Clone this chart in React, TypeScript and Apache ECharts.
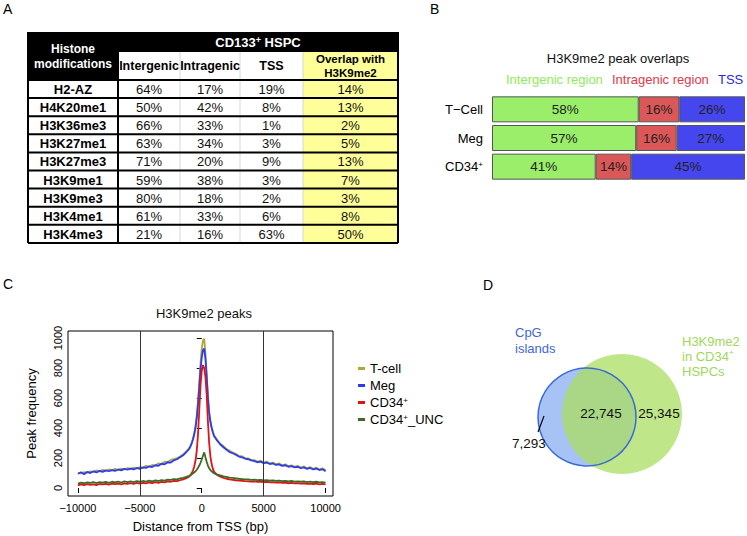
import React, { useEffect, useRef } from "react";
import * as echarts from "echarts";

const FONT = '"Liberation Sans", Arial, Helvetica, sans-serif';

// ---------- Panel A: table ----------
const histoneMods = ["H2-AZ", "H4K20me1", "H3K36me3", "H3K27me1", "H3K27me3", "H3K9me1", "H3K9me3", "H3K4me1", "H3K4me3"];
const intergenicPct = [64, 50, 66, 63, 71, 59, 80, 61, 21];
const intragenicPct = [17, 42, 33, 34, 20, 38, 18, 33, 16];
const tssPct = [19, 8, 1, 3, 9, 3, 2, 6, 63];
const overlapPct = [14, 13, 2, 5, 13, 7, 3, 8, 50];

// ---------- Panel B: stacked bars ----------
const cellTypes = ["T−Cell", "Meg", "CD34+"];
const intergenicRegion = [58, 57, 41];
const intragenicRegion = [16, 16, 14];
const tssRegion = [26, 27, 45];

// ---------- Panel C: peak profiles ----------
const distance = [
  -10000, -9750, -9500, -9250, -9000, -8750, -8500, -8250, -8000, -7750, -7500, -7250, -7000, -6750, -6500, -6250, -6000, -5750, -5500, -5250,
  -5000, -4750, -4500, -4250, -4000, -3750, -3500, -3250, -3000, -2750, -2500, -2250, -2000, -1750, -1500, -1250, -1000,
  -900, -800, -700, -600, -500, -400, -300, -200, -100, 0, 100, 200, 300, 400, 500, 600, 700, 800, 900, 1000,
  1250, 1500, 1750, 2000, 2250, 2500, 2750, 3000, 3250, 3500, 3750, 4000, 4250, 4500, 4750, 5000, 5250, 5500, 5750, 6000,
  6250, 6500, 6750, 7000, 7250, 7500, 7750, 8000, 8250, 8500, 8750, 9000, 9250, 9500, 9750, 10000,
];
const tCell = [
  100, 98, 106, 102, 112, 106, 118, 110, 122, 114, 124, 118, 128, 120, 130, 124, 134, 128, 136, 130,
  140, 134, 148, 142, 154, 150, 164, 160, 176, 172, 188, 192, 200, 210, 225, 245, 268,
  285, 305, 332, 368, 415, 485, 580, 700, 830, 930, 985, 995, 900, 760, 615, 510, 448, 405, 375, 350,
  322, 295, 280, 260, 248, 236, 228, 214, 212, 200, 198, 188, 186, 176, 182, 170, 176, 164, 170, 158,
  164, 152, 158, 146, 152, 142, 148, 136, 144, 132, 140, 128, 136, 124, 132, 118,
];
const meg = [
  95, 105, 92, 108, 100, 112, 104, 115, 108, 118, 112, 120, 114, 124, 118, 128, 122, 130, 124, 134,
  128, 138, 134, 145, 140, 152, 148, 162, 158, 172, 170, 185, 192, 205, 218, 240, 262,
  280, 300, 325, 360, 405, 470, 560, 670, 790, 870, 920, 930, 860, 740, 600, 500, 440, 400, 370, 345,
  315, 290, 272, 255, 240, 232, 222, 210, 205, 196, 192, 184, 180, 172, 176, 166, 170, 160, 164, 154,
  158, 148, 152, 142, 146, 138, 142, 132, 138, 128, 134, 124, 130, 120, 126, 112,
];
const cd34 = [
  18, 24, 20, 26, 22, 25, 20, 27, 24, 28, 23, 29, 26, 30, 25, 31, 28, 33, 27, 34,
  30, 35, 31, 37, 33, 39, 35, 41, 38, 44, 42, 48, 46, 52, 58, 66, 78,
  88, 100, 118, 145, 185, 250, 360, 520, 680, 780, 820, 800, 740, 620, 440, 300, 210, 160, 128, 108,
  88, 76, 68, 62, 58, 55, 52, 50, 48, 46, 45, 43, 44, 41, 43, 40, 42, 38, 40, 36,
  38, 34, 36, 32, 35, 31, 33, 29, 32, 28, 30, 27, 29, 25, 28, 24,
];
const cd34Unc = [
  30, 36, 32, 38, 34, 39, 33, 40, 36, 41, 35, 42, 38, 43, 37, 44, 40, 45, 39, 46,
  42, 47, 43, 49, 45, 51, 47, 53, 50, 56, 54, 60, 58, 64, 68, 74, 82,
  86, 92, 98, 105, 112, 122, 135, 150, 168, 190, 215, 238, 205, 175, 150, 132, 120, 112, 104, 98,
  90, 84, 78, 74, 70, 68, 65, 62, 60, 58, 57, 55, 56, 53, 55, 51, 53, 49, 51, 48,
  50, 46, 48, 44, 47, 43, 45, 42, 44, 40, 43, 39, 42, 38, 40, 36,
];
const xTicks = [-10000, -5000, 0, 5000, 10000];
const yTicks = [0, 200, 400, 600, 800, 1000];
const refLines = [-5000, 5000];

// ---------- Panel D: Venn ----------
const vennLabels = ["7,293", "22,745", "25,345"];

const supRich = (size: number, color: string) => ({
  b: { fontSize: size, fontFamily: FONT, color, fill: color },
  s: { fontSize: Math.round(size * 0.65), fontFamily: FONT, color, fill: color, verticalAlign: "top" },
});
const supText = (s: string) => s.replace("CD34+", "{b|CD34}{s|+}");

function tableGraphics(): any[] {
  const els: any[] = [];
  const colX = [28, 118, 180, 240, 303, 398];
  const top = 32, subTop = 52, dataTop = 80, rowH = 18.1;
  const bottom = dataTop + histoneMods.length * rowH;
  const cx = (i: number) => (colX[i] + colX[i + 1]) / 2;
  els.push({ type: "rect", shape: { x: 28, y: top, width: 370, height: subTop - top }, style: { fill: "#000" } });
  els.push({ type: "rect", shape: { x: 28, y: top, width: 90, height: dataTop - top }, style: { fill: "#000" } });
  els.push({ type: "rect", shape: { x: 303, y: subTop, width: 95, height: bottom - subTop }, style: { fill: "#FFFF99" } });
  [180, 240, 303].forEach((x) =>
    els.push({ type: "line", shape: { x1: x, y1: subTop, x2: x, y2: bottom }, style: { stroke: "#d8d8d8", lineWidth: 1 } })
  );
  for (let i = 0; i <= histoneMods.length; i++) {
    const y = dataTop + i * rowH;
    els.push({ type: "line", shape: { x1: 28, y1: y, x2: 398, y2: y }, style: { stroke: "#000", lineWidth: 2 } });
  }
  els.push({ type: "line", shape: { x1: 28, y1: top, x2: 28, y2: bottom }, style: { stroke: "#000", lineWidth: 2 } });
  els.push({ type: "line", shape: { x1: 118, y1: subTop, x2: 118, y2: bottom }, style: { stroke: "#000", lineWidth: 2 } });
  els.push({ type: "line", shape: { x1: 398, y1: top, x2: 398, y2: bottom }, style: { stroke: "#000", lineWidth: 2 } });

  const hdr = { fontFamily: FONT, fontWeight: "bold", fontSize: 12, align: "center", verticalAlign: "middle" };
  els.push({ type: "text", style: { ...hdr, x: 73, y: 56, text: "Histone\nmodifications", fill: "#fff", lineHeight: 15 } });
  els.push({
    type: "text",
    style: {
      ...hdr, x: 258, y: 42, fill: "#fff",
      text: "{b|CD133}{s|+}{b| HSPC}",
      rich: { b: { fontSize: 13, fontWeight: "bold", fill: "#fff", fontFamily: FONT }, s: { fontSize: 9, fontWeight: "bold", fill: "#fff", fontFamily: FONT, verticalAlign: "top" } },
    },
  });
  ["Intergenic", "Intragenic", "TSS"].forEach((t, i) =>
    els.push({ type: "text", style: { ...hdr, fontSize: 12.5, x: cx(i + 1), y: 66, text: t, fill: "#000" } })
  );
  els.push({ type: "text", style: { ...hdr, fontSize: 11.5, x: cx(4), y: 66, text: "Overlap with\nH3K9me2", fill: "#000", lineHeight: 13.5 } });

  const cols = [intergenicPct, intragenicPct, tssPct, overlapPct];
  histoneMods.forEach((m, r) => {
    const y = dataTop + (r + 0.5) * rowH + 0.5;
    els.push({ type: "text", style: { ...hdr, fontSize: 13, x: cx(0), y, text: m, fill: "#000" } });
    cols.forEach((arr, c) =>
      els.push({
        type: "text",
        style: { fontFamily: FONT, fontSize: 13, align: "center", verticalAlign: "middle", x: cx(c + 1), y, text: arr[r] + "%", fill: "#111" },
      })
    );
  });
  return els;
}

function vennGraphics(): any[] {
  const t = (x: number, y: number, text: string, fill: string, align = "center", extra: any = {}) => ({
    type: "text",
    style: { x, y, text, fill, align, verticalAlign: "middle", fontFamily: FONT, fontSize: 13, ...extra },
  });
  return [
    { type: "circle", shape: { cx: 587, cy: 417, r: 49 }, style: { fill: "#a7c3f5" } },
    { type: "circle", shape: { cx: 622, cy: 414, r: 60 }, style: { fill: "rgba(170,222,96,0.75)" } },
    { type: "circle", shape: { cx: 587, cy: 417, r: 49 }, style: { fill: "none", stroke: "#3b6ad8", lineWidth: 1.5 } },
    t(515, 340, "CpG\nislands", "#3f66dc", "left", { lineHeight: 16 }),
    {
      type: "text",
      style: {
        x: 682, y: 356, align: "left", verticalAlign: "middle", fontFamily: FONT, fontSize: 13, lineHeight: 15, fill: "#9fd65c",
        text: "{b|H3K9me2}\n{b|in CD34}{s|+}\n{b|HSPCs}",
        rich: { b: { fontSize: 13, fill: "#9fd65c", fontFamily: FONT, lineHeight: 15 }, s: { fontSize: 8, fill: "#9fd65c", fontFamily: FONT, verticalAlign: "top", lineHeight: 15 } },
      },
    },
    t(601, 413, vennLabels[1], "#111", "center", { fontSize: 13.5 }),
    t(659, 413, vennLabels[2], "#111", "center", { fontSize: 13.5 }),
    t(529, 443, vennLabels[0], "#111", "center", { fontSize: 13.5 }),
    { type: "line", shape: { x1: 544, y1: 416, x2: 538, y2: 432 }, style: { stroke: "#000", lineWidth: 1.2 } },
  ];
}

export default function App() {
  const ref = useRef<HTMLDivElement>(null);
  useEffect(() => {
    if (!ref.current) return;
    const chart = echarts.init(ref.current, undefined, { renderer: "svg" });
    const pair = (ys: number[]) => distance.map((x, i) => [x, ys[i]]);
    const letter = (x: number, y: number, text: string) => ({
      type: "text",
      style: { x, y, text, fill: "#000", fontFamily: FONT, fontSize: 14, verticalAlign: "middle", align: "left" },
    });
    const barLabel = { show: true, position: "inside", formatter: "{c}%", fontSize: 13.5, color: "#222", fontFamily: FONT };
    const barBorder = { borderColor: "#555", borderWidth: 1 };
    const lineSeries = (name: string, ys: number[], color: string, extra: any = {}) => ({
      name, type: "line", xAxisIndex: 1, yAxisIndex: 1, data: pair(ys), showSymbol: false, symbol: "none",
      lineStyle: { color, width: 1.8 }, itemStyle: { color }, ...extra,
    });

    const option: any = {
      animation: false,
      textStyle: { fontFamily: FONT },
      grid: [
        { left: 492, top: 95, width: 253, height: 86 },
        { left: 68, top: 331, width: 265, height: 165, show: true, borderColor: "#000", borderWidth: 1, backgroundColor: "transparent" },
      ],
      xAxis: [
        { gridIndex: 0, type: "value", min: 0, max: 100, show: false },
        {
          gridIndex: 1, type: "value", min: -10800, max: 10600,
          axisLine: { show: false },
          axisTick: { show: true, customValues: xTicks, length: 5, lineStyle: { color: "#000" } },
          axisLabel: { customValues: xTicks, fontSize: 11, color: "#000", margin: 6, formatter: (v: number) => (v < 0 ? "−" + Math.abs(v) : String(v)) },
          splitLine: { show: false },
          name: "Distance from TSS (bp)", nameLocation: "middle", nameGap: 24,
          nameTextStyle: { fontSize: 13, color: "#000", fontFamily: FONT },
        },
      ],
      yAxis: [
        {
          gridIndex: 0, type: "category", data: cellTypes, inverse: true,
          axisLine: { show: false }, axisTick: { show: false },
          axisLabel: { margin: 9, fontSize: 13, color: "#000", formatter: (v: string) => (v.includes("CD34") ? supText(v) : "{b|" + v + "}"), rich: supRich(13, "#000") },
        },
        {
          gridIndex: 1, type: "value", min: -53, max: 1047,
          axisLine: { show: false },
          axisTick: { show: true, customValues: yTicks, length: 5, lineStyle: { color: "#000" } },
          axisLabel: { customValues: yTicks, rotate: 90, fontSize: 11, color: "#000", margin: 5, formatter: (v: number) => String(v) },
          splitLine: { show: false },
          name: "Peak frequency", nameLocation: "middle", nameGap: 30,
          nameTextStyle: { fontSize: 13, color: "#000", fontFamily: FONT },
        },
      ],
      legend: {
        data: ["T-cell", "Meg", "CD34+", "CD34+_UNC"],
        orient: "vertical", left: 353, top: 357, icon: "rect", itemWidth: 7, itemHeight: 3, itemGap: 4,
        textStyle: { fontSize: 13, color: "#000", fontFamily: FONT, rich: supRich(13, "#000") },
        formatter: (n: string) => (n.includes("CD34+") ? supText(n) : "{b|" + n + "}"),
      },
      series: [
        { name: "Intergenic region", type: "bar", stack: "b", xAxisIndex: 0, yAxisIndex: 0, barWidth: 26, data: intergenicRegion, itemStyle: { color: "#9AEE6A", ...barBorder }, label: barLabel },
        { name: "Intragenic region", type: "bar", stack: "b", xAxisIndex: 0, yAxisIndex: 0, barWidth: 26, data: intragenicRegion, itemStyle: { color: "#DC5858", ...barBorder }, label: barLabel },
        { name: "TSS", type: "bar", stack: "b", xAxisIndex: 0, yAxisIndex: 0, barWidth: 26, data: tssRegion, itemStyle: { color: "#4646EE", ...barBorder }, label: barLabel },
        lineSeries("T-cell", tCell, "#ABA83A", {
          markLine: {
            silent: true, symbol: "none", label: { show: false },
            lineStyle: { color: "#333", width: 1, type: "solid" },
            data: refLines.map((x) => ({ xAxis: x })),
          },
        }),
        lineSeries("Meg", meg, "#2C3CF0"),
        lineSeries("CD34+", cd34, "#E01414"),
        lineSeries("CD34+_UNC", cd34Unc, "#3B6B24"),
      ],
      graphic: [
        letter(3, 9, "A"),
        letter(430, 9, "B"),
        letter(3, 284, "C"),
        letter(483, 285, "D"),
        ...tableGraphics(),
        { type: "text", style: { x: 618, y: 58, text: "H3K9me2 peak overlaps", fill: "#111", fontFamily: FONT, fontSize: 13, align: "center", verticalAlign: "middle" } },
        { type: "text", style: { x: 506, y: 79, text: "Intergenic region", fill: "#8FEA5C", fontFamily: FONT, fontSize: 13, align: "left", verticalAlign: "middle" } },
        { type: "text", style: { x: 612, y: 79, text: "Intragenic region", fill: "#E03A4A", fontFamily: FONT, fontSize: 13, align: "left", verticalAlign: "middle" } },
        { type: "text", style: { x: 718, y: 79, text: "TSS", fill: "#2929E0", fontFamily: FONT, fontSize: 13, align: "left", verticalAlign: "middle" } },
        { type: "text", style: { x: 204, y: 313, text: "H3K9me2 peaks", fill: "#111", fontFamily: FONT, fontSize: 13, align: "center", verticalAlign: "middle" } },
        ...vennGraphics(),
      ],
    };
    chart.setOption(option);
    return () => chart.dispose();
  }, []);
  return <div ref={ref} style={{ position: "absolute", left: 0, top: 0, width: 747, height: 536, background: "#fff" }} />;
}
